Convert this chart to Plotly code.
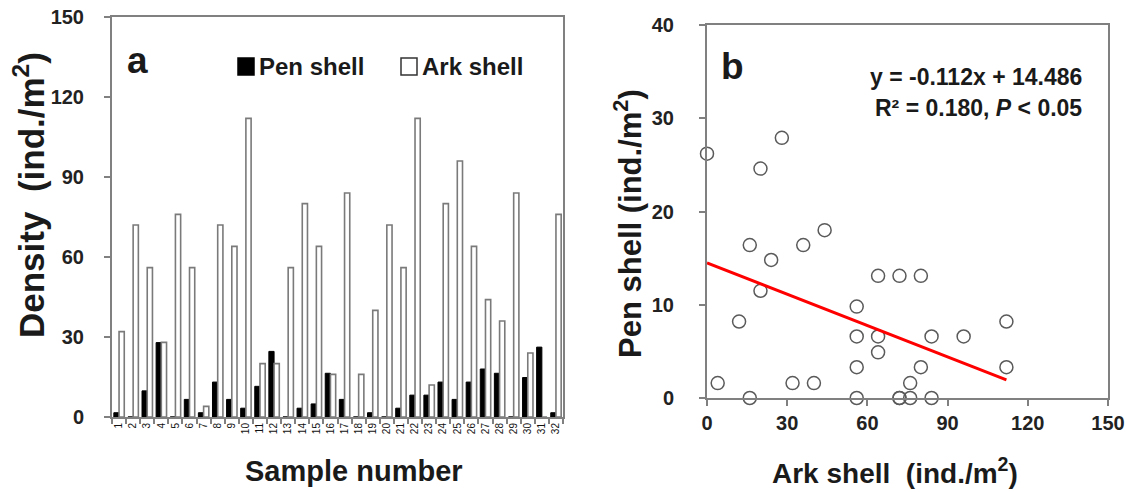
import plotly.graph_objects as go

# Sample numbers 1-32
samples = [str(i) for i in range(1, 33)]

# Densities (ind./m2) per sample
pen_shell = [1.6, 0, 9.8, 27.9, 0, 6.6, 1.6, 13.1, 6.6, 3.3, 11.5, 24.6, 0, 3.3, 4.9, 16.4,
             6.6, 0, 1.6, 0, 3.3, 8.2, 8.2, 13.1, 6.6, 13.1, 18.0, 16.4, 0, 14.8, 26.2, 1.6]
ark_shell = [32, 72, 56, 28, 76, 56, 4, 72, 64, 112, 20, 20, 56, 80, 64, 16,
             84, 16, 40, 72, 56, 112, 12, 80, 96, 64, 44, 36, 84, 24, 0, 76]

# Linear regression reported for pen shell vs ark shell
slope = -0.112
intercept = 14.486
r_squared = 0.180

density_ticks = [0, 30, 60, 90, 120, 150]
ark_ticks = [0, 30, 60, 90, 120, 150]
pen_ticks = [0, 10, 20, 30, 40]

W, H = 1127, 492
FONT = "Liberation Sans, Arial, sans-serif"
TEXT = "#1a1a1a"
AXIS_GREY = "#808080"
ARK_EDGE = "#7a7a7a"


def px(x):
    return x / W


def py(y):
    return 1 - y / H


fig = go.Figure()

# Panel a: grouped bars
fig.add_trace(go.Bar(
    x=samples, y=pen_shell, name="Pen shell",
    marker=dict(color="black", line=dict(color="black", width=1)),
    xaxis="x", yaxis="y",
))
fig.add_trace(go.Bar(
    x=samples, y=ark_shell, name="Ark shell",
    marker=dict(color="white", line=dict(color=ARK_EDGE, width=1.6)),
    xaxis="x", yaxis="y",
))

# Panel b: scatter and fitted line
fig.add_trace(go.Scatter(
    x=ark_shell, y=pen_shell, mode="markers",
    marker=dict(symbol="circle-open", size=13, color="#5a5a5a",
                line=dict(width=1.5, color="#5a5a5a")),
    cliponaxis=False, xaxis="x2", yaxis="y2",
))
x_fit = [min(ark_shell), max(ark_shell)]
y_fit = [slope * v + intercept for v in x_fit]
fig.add_trace(go.Scatter(
    x=x_fit, y=y_fit, mode="lines",
    line=dict(color="#ff0000", width=3),
    xaxis="x2", yaxis="y2",
))

common_axis = dict(
    showline=True, linecolor=AXIS_GREY, linewidth=2, mirror=True,
    showgrid=False, zeroline=False, ticks="outside", tickcolor=AXIS_GREY,
    tickwidth=1.5, automargin=False,
)
tick_font = dict(family=FONT, size=20, color="#222", weight="bold")

fig.update_layout(
    width=W, height=H,
    margin=dict(l=0, r=0, t=0, b=0, autoexpand=False),
    paper_bgcolor="white", plot_bgcolor="white",
    font=dict(family=FONT, color=TEXT),
    showlegend=False,
    barmode="group", bargap=0.26, bargroupgap=0.0,
    xaxis=dict(
        domain=[px(112), px(563)], anchor="y", type="category",
        tickson="boundaries", ticklen=5, tickangle=-90,
        tickfont=dict(family=FONT, size=10, color="#111"),
        **common_axis,
    ),
    yaxis=dict(
        domain=[py(417), py(17)], anchor="x", range=[0, 150],
        tickvals=density_ticks, ticklen=6, ticklabelstandoff=16,
        tickfont=tick_font,
        **common_axis,
    ),
    xaxis2=dict(
        domain=[px(707), px(1108)], anchor="y2", range=[0, 150],
        tickvals=ark_ticks, ticklen=6, ticklabelstandoff=0,
        tickfont=tick_font,
        **common_axis,
    ),
    yaxis2=dict(
        domain=[py(398), py(25)], anchor="x2", range=[0, 40],
        tickvals=pen_ticks, ticklen=6, ticklabelstandoff=21,
        tickfont=tick_font,
        **common_axis,
    ),
)

# Legend key swatches for panel a
legend_keys = [
    dict(x0=238, x1=254, fill="black", edge="black"),
    dict(x0=401, x1=417, fill="white", edge="#333333"),
]
shapes = []
for k in legend_keys:
    shapes.append(dict(
        type="rect", xref="paper", yref="paper",
        x0=px(k["x0"]), x1=px(k["x1"]), y0=py(75), y1=py(58),
        fillcolor=k["fill"], line=dict(color=k["edge"], width=1.5),
    ))
fig.update_layout(shapes=shapes)

annotations = [
    # Panel letters
    dict(text="a", x=px(137), y=py(60), font=dict(family=FONT, size=37, color=TEXT, weight="bold")),
    dict(text="b", x=px(732), y=py(66), font=dict(family=FONT, size=37, color=TEXT, weight="bold")),
    # Legend labels
    dict(text="Pen shell", x=px(257), y=py(66), xanchor="left",
         font=dict(family=FONT, size=24, color=TEXT, weight="bold")),
    dict(text="Ark shell", x=px(420), y=py(66), xanchor="left",
         font=dict(family=FONT, size=24, color=TEXT, weight="bold")),
    # Axis titles
    dict(text="Sample number", x=px(354), y=py(471), font=dict(family=FONT, size=29, color=TEXT, weight="bold")),
    dict(text="Density  (ind./m<sup>2</sup>)", x=px(29), y=py(195), textangle=-90,
         font=dict(family=FONT, size=35, color=TEXT, weight="bold")),
    dict(text="Ark shell  (ind./m<sup>2</sup>)", x=px(895), y=py(471),
         font=dict(family=FONT, size=28, color=TEXT, weight="bold")),
    dict(text="Pen shell (ind./m<sup>2</sup>)", x=px(628), y=py(224), textangle=-90,
         font=dict(family=FONT, size=31, color=TEXT, weight="bold")),
    # Regression statistics
    dict(text=f"y = {slope:.3f}x + {intercept:.3f}", x=px(1084), y=py(77), xanchor="right",
         font=dict(family=FONT, size=23, color=TEXT, weight="bold")),
    dict(text=f"R² = {r_squared:.3f}, <i>P</i> < 0.05", x=px(1084), y=py(108), xanchor="right",
         font=dict(family=FONT, size=23, color=TEXT, weight="bold")),
]
for a in annotations:
    a.update(xref="paper", yref="paper", showarrow=False,
             xanchor=a.get("xanchor", "center"), yanchor="middle")
fig.update_layout(annotations=annotations)

fig.write_html("out.html")
